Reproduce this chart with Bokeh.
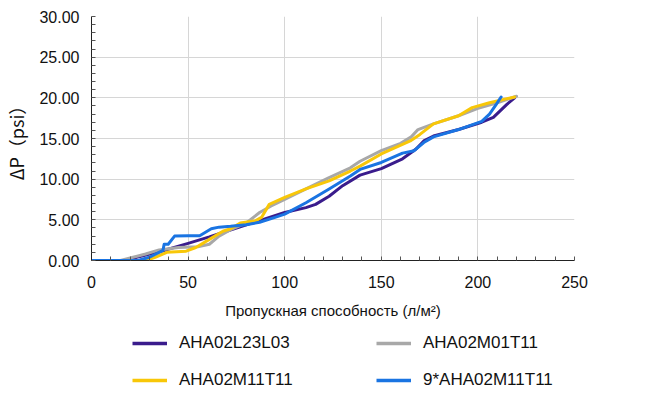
from bokeh.plotting import figure
from bokeh.layouts import column
from bokeh.models import (Legend, LegendItem, SingleIntervalTicker, PrintfTickFormatter, Range1d)
from bokeh.embed import file_html
from bokeh.resources import INLINE

# ---- data ----
purple_x = [0, 18, 25, 37, 50, 61, 75, 87, 100, 111, 116, 123, 130, 139, 150, 161, 168, 172, 177, 190, 202, 208, 215, 219]
purple_y = [0, 0, 0.5, 1.2, 2.1, 2.9, 4.0, 4.9, 5.9, 6.5, 6.9, 7.9, 9.2, 10.5, 11.3, 12.5, 13.7, 14.7, 15.3, 16.1, 17.0, 17.6, 19.2, 20.0]

gray_x = [0, 15, 20, 28, 35, 45, 55, 61, 66, 72, 80, 87, 93, 100, 111, 123, 134, 139, 150, 160, 165.5, 169, 177, 190, 200, 210, 220]
gray_y = [0, 0, 0.3, 0.8, 1.3, 1.6, 1.7, 2.0, 3.0, 3.8, 4.6, 5.9, 6.7, 7.5, 8.8, 10.2, 11.4, 12.2, 13.5, 14.4, 15.2, 16.1, 16.8, 17.8, 18.7, 19.4, 20.2]

yellow_x = [0, 28, 33, 39, 49, 54, 61, 68, 72, 77, 85, 88, 92, 100, 111, 123, 134, 139, 150, 165, 170, 177, 190, 197, 206, 219]
yellow_y = [0, 0, 0.4, 1.0, 1.15, 1.6, 2.6, 3.6, 3.9, 4.6, 4.9, 5.3, 6.9, 7.75, 8.8, 9.8, 11.0, 11.6, 13.1, 14.7, 15.5, 16.8, 17.8, 18.8, 19.4, 20.1]

blue_x = [0, 24, 30, 37, 37.6, 39.7, 43, 50, 56, 62, 66, 72, 80, 87, 95, 100, 111, 123, 134, 139, 150, 161, 167, 172, 177, 190, 202, 206, 209.5, 212]
blue_y = [0, 0, 0.4, 1.25, 2.0, 2.0, 3.0, 3.05, 3.05, 3.9, 4.1, 4.2, 4.4, 4.7, 5.3, 5.7, 7.1, 8.8, 10.4, 11.2, 12.05, 13.2, 13.5, 14.5, 15.2, 16.1, 17.1, 18.0, 19.2, 20.1]

series_names = ["AHA02L23L03", "AHA02M01T11", "AHA02M11T11", "9*AHA02M11T11"]
series_colors = ["#3A1C8C", "#A8A8A8", "#F8C708", "#1A74E2"]

x_label = "Пропускная способность (л/м²)"
y_label = "ΔP（psi）"

xs = [purple_x, gray_x, yellow_x, blue_x]
ys = [purple_y, gray_y, yellow_y, blue_y]

# ---- main chart ----
p = figure(width=642, height=324, output_backend="svg", toolbar_location=None,
           x_range=Range1d(0, 250), y_range=Range1d(0, 30),
           frame_width=483, frame_height=244,
           min_border_left=91, min_border_right=68, min_border_top=16, min_border_bottom=64)
p.outline_line_color = None
p.background_fill_color = "white"
p.border_fill_color = "white"

p.xaxis.ticker = SingleIntervalTicker(interval=50, num_minor_ticks=5)
p.yaxis.ticker = SingleIntervalTicker(interval=5, num_minor_ticks=5)
p.yaxis.formatter = PrintfTickFormatter(format="%.2f")

for ax in (p.xaxis, p.yaxis):
    ax.axis_line_color = "#222222"
    ax.axis_line_width = 1
    ax.major_tick_in = 0
    ax.major_tick_out = 0
    ax.minor_tick_in = 4
    ax.minor_tick_out = 0
    ax.minor_tick_line_color = "#555555"
    ax.major_label_text_font = "Liberation Sans"
    ax.major_label_text_font_size = "16px"
    ax.major_label_text_color = "#111111"
    ax.axis_label_text_font_style = "normal"
    ax.axis_label_text_color = "#111111"

p.xaxis.axis_label_text_font = "Liberation Sans"
p.xaxis.axis_label_text_font_size = "15px"
p.yaxis.axis_label_text_font = "Noto Sans CJK JP"
p.yaxis.axis_label_text_font_size = "18px"
p.xaxis.major_label_standoff = 15
p.xaxis.axis_label = x_label
p.xaxis.axis_label_standoff = 11
p.yaxis.major_label_standoff = 12
p.yaxis.axis_label = y_label
p.yaxis.axis_label_standoff = 7

p.xgrid.grid_line_color = "#D6D6D6"
p.ygrid.grid_line_color = "#D6D6D6"

for x, y, c in zip(xs, ys, series_colors):
    p.line(x, y, line_color=c, line_width=3, line_join="round", line_cap="round")

# ---- legend strip (same series, ranges chosen so only the legend shows) ----
leg = figure(width=642, height=71, output_backend="svg", toolbar_location=None,
             x_range=Range1d(1000, 1001), y_range=Range1d(1000, 1001),
             x_axis_type=None, y_axis_type=None,
             min_border_left=0, min_border_right=0, min_border_top=0, min_border_bottom=0)
leg.outline_line_color = None
leg.xgrid.visible = False
leg.ygrid.visible = False
renderers = []
for x, y, c in zip(xs, ys, series_colors):
    r = leg.line(x, y, line_color=c, line_width=3.5)
    renderers.append(r)

# legend fills column by column: order items so rows read purple/gray, yellow/blue
order = [0, 2, 1, 3]
items = [LegendItem(label=series_names[i], renderers=[renderers[i]]) for i in order]
legend = Legend(items=items, ncols=2, location=(41, 4),
                glyph_width=35, glyph_height=22, label_height=22, label_width=182,
                label_standoff=12, spacing=15, padding=0, margin=0,
                border_line_color=None, background_fill_alpha=0,
                label_text_font="Liberation Sans", label_text_font_size="17px", label_text_color="#111111")
leg.add_layout(legend, "center")

layout = column(p, leg, spacing=0)
open("out.html", "w").write(file_html(layout, INLINE))
